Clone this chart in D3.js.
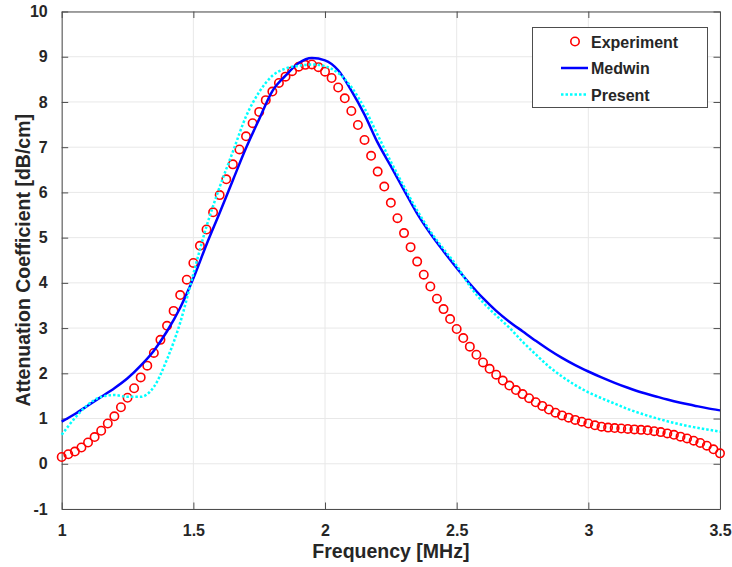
<!DOCTYPE html>
<html>
<head>
<meta charset="utf-8">
<script src="https://cdn.jsdelivr.net/npm/d3@7"></script>
<style>
  body { margin: 0; background: #fff; }
  #chart { width: 732px; height: 567px; }
  text { font-family: "Liberation Sans", Arial, Helvetica, sans-serif; font-weight: bold; fill: #262626; }
</style>
</head>
<body>
<div id="chart"></div>
<script>
// frequency grid of the measured points (MHz): start and step
const expStart = 1.0;
const expStep = 0.025;
// measured attenuation [dB/cm], one per grid point
const experiment = [
  0.15, 0.21, 0.27, 0.36, 0.47, 0.59, 0.73, 0.89, 1.05, 1.25,
  1.46, 1.67, 1.91, 2.17, 2.45, 2.74, 3.05, 3.38, 3.73, 4.07,
  4.44, 4.82, 5.18, 5.56, 5.94, 6.29, 6.62, 6.95, 7.24, 7.53,
  7.78, 8.04, 8.23, 8.42, 8.56, 8.68, 8.78, 8.82, 8.83, 8.77,
  8.67, 8.53, 8.32, 8.08, 7.80, 7.49, 7.16, 6.81, 6.46, 6.13,
  5.77, 5.43, 5.10, 4.79, 4.47, 4.18, 3.92, 3.65, 3.42, 3.20,
  2.98, 2.78, 2.59, 2.41, 2.24, 2.10, 1.97, 1.84, 1.73, 1.63,
  1.54, 1.45, 1.36, 1.28, 1.20, 1.13, 1.07, 1.02, 0.97, 0.93,
  0.89, 0.85, 0.82, 0.80, 0.79, 0.78, 0.77, 0.76, 0.75, 0.74,
  0.72, 0.70, 0.67, 0.64, 0.60, 0.56, 0.51, 0.46, 0.40, 0.32,
  0.23
];

// model curves sampled every 0.05 MHz
const curveStart = 1.0;
const curveStep = 0.05;
const medwin = [
  0.93, 1.10, 1.29, 1.48, 1.67, 1.89, 2.17, 2.50, 2.93, 3.45,
  4.10, 4.85, 5.55, 6.27, 6.98, 7.62, 8.24, 8.58, 8.86, 8.97,
  8.92, 8.70, 8.25, 7.72, 7.10, 6.58, 6.05, 5.53, 5.09, 4.70,
  4.33, 3.98, 3.66, 3.38, 3.14, 2.93, 2.72, 2.52, 2.34, 2.18,
  2.04, 1.91, 1.79, 1.68, 1.58, 1.50, 1.42, 1.35, 1.29, 1.23,
  1.18
];
const present = [
  0.64, 1.01, 1.31, 1.48, 1.52, 1.48, 1.48, 1.70, 2.31, 3.12,
  4.20, 5.25, 6.12, 6.90, 7.68, 8.22, 8.58, 8.74, 8.80, 8.83,
  8.79, 8.64, 8.33, 7.86, 7.27, 6.68, 6.13, 5.60, 5.14, 4.75,
  4.38, 3.93, 3.57, 3.28, 3.01, 2.70, 2.42, 2.15, 1.93, 1.74,
  1.58, 1.45, 1.33, 1.21, 1.11, 1.02, 0.94, 0.87, 0.81, 0.76,
  0.71
];

const xTicks = [1, 1.5, 2, 2.5, 3, 3.5];
const yTicks = [-1, 0, 1, 2, 3, 4, 5, 6, 7, 8, 9, 10];
const legendNames = ["Experiment", "Medwin", "Present"];

const width = 732, height = 567;
const margin = {top: 11.5, right: 12, bottom: 58, left: 61.7};

const svg = d3.select("#chart").append("svg")
    .attr("width", width)
    .attr("height", height);

const x = d3.scaleLinear().domain([1, 3.5]).range([margin.left, width - margin.right]);
const y = d3.scaleLinear().domain([-1, 10]).range([height - margin.bottom, margin.top]);

// grid
const grid = svg.append("g").attr("stroke", "#e8e8e8").attr("stroke-width", 1);
grid.selectAll(".gx").data(xTicks).enter().append("line")
    .attr("x1", d => x(d)).attr("x2", d => x(d))
    .attr("y1", y(-1)).attr("y2", y(10));
grid.selectAll(".gy").data(yTicks).enter().append("line")
    .attr("x1", x(1)).attr("x2", x(3.5))
    .attr("y1", d => y(d)).attr("y2", d => y(d));

// axes (box with inward ticks)
const tickLen = 6.5;
const fmt = d => String(d);
svg.append("g").attr("class", "xAxis")
    .attr("transform", "translate(0," + y(-1) + ")")
    .call(d3.axisBottom(x).tickValues(xTicks).tickSizeInner(-tickLen).tickSizeOuter(0).tickPadding(16).tickFormat(fmt));
svg.append("g").attr("class", "xAxisTop")
    .attr("transform", "translate(0," + y(10) + ")")
    .call(d3.axisTop(x).tickValues(xTicks).tickSizeInner(-tickLen).tickSizeOuter(0).tickFormat(""));
svg.append("g").attr("class", "yAxis")
    .attr("transform", "translate(" + x(1) + ",0)")
    .call(d3.axisLeft(y).tickValues(yTicks).tickSizeInner(-tickLen).tickSizeOuter(0).tickPadding(14).tickFormat(fmt));
svg.append("g").attr("class", "yAxisRight")
    .attr("transform", "translate(" + x(3.5) + ",0)")
    .call(d3.axisRight(y).tickValues(yTicks).tickSizeInner(-tickLen).tickSizeOuter(0).tickFormat(""));

svg.selectAll(".xAxis, .xAxisTop, .yAxis, .yAxisRight").each(function() {
    const g = d3.select(this);
    g.select(".domain").attr("stroke", "#4d4d4d");
    g.selectAll(".tick line").attr("stroke", "#4d4d4d");
    g.selectAll(".tick text").attr("font-size", 16).attr("fill", "#262626")
        .style("font-family", "'Liberation Sans', Arial, sans-serif").style("font-weight", "bold");
});

// axis labels
svg.append("text")
    .attr("x", (x(1) + x(3.5)) / 2)
    .attr("y", 558)
    .attr("text-anchor", "middle")
    .attr("font-size", 19.5)
    .text("Frequency [MHz]");
svg.append("text")
    .attr("transform", "translate(30," + ((y(-1) + y(10)) / 2) + ") rotate(-90)")
    .attr("text-anchor", "middle")
    .attr("font-size", 19.5)
    .text("Attenuation Coefficient [dB/cm]");

// plot
const plot = svg.append("g").attr("id", "plot");

const line = d3.line()
    .x((d, i) => x(curveStart + i * curveStep))
    .y(d => y(d))
    .curve(d3.curveMonotoneX);

plot.selectAll(".exp").data(experiment).enter().append("circle")
    .attr("cx", (d, i) => x(expStart + i * expStep))
    .attr("cy", d => y(d))
    .attr("r", 4.2)
    .attr("fill", "none")
    .attr("stroke", "#ff0000")
    .attr("stroke-width", 1.6);

plot.append("path").datum(medwin)
    .attr("d", line)
    .attr("fill", "none")
    .attr("stroke", "#0000ff")
    .attr("stroke-width", 2.5);

plot.append("path").datum(present)
    .attr("d", line)
    .attr("fill", "none")
    .attr("stroke", "#00ffff")
    .attr("stroke-width", 2.5)
    .attr("stroke-dasharray", "2.5,2");

// legend
const legend = svg.append("g").attr("class", "legend");
legend.append("rect")
    .attr("x", 532.5).attr("y", 27.5)
    .attr("width", 175).attr("height", 80)
    .attr("fill", "#fff")
    .attr("stroke", "#4d4d4d")
    .attr("stroke-width", 1);

const rows = legend.selectAll(".row").data(legendNames).enter().append("g")
    .attr("transform", (d, i) => "translate(0," + (41.5 + i * 26.5) + ")");
rows.append("text")
    .attr("x", 591)
    .attr("y", 6)
    .attr("font-size", 16)
    .text(d => d);
rows.filter((d, i) => i === 0).append("circle")
    .attr("cx", 575).attr("cy", 0).attr("r", 4.2)
    .attr("fill", "none").attr("stroke", "#ff0000").attr("stroke-width", 1.6);
rows.filter((d, i) => i === 1).append("line")
    .attr("x1", 561).attr("x2", 588).attr("y1", 0).attr("y2", 0)
    .attr("stroke", "#0000ff").attr("stroke-width", 2.5);
rows.filter((d, i) => i === 2).append("line")
    .attr("x1", 561).attr("x2", 588).attr("y1", 0).attr("y2", 0)
    .attr("stroke", "#00ffff").attr("stroke-width", 2.5).attr("stroke-dasharray", "2.5,2");
</script>
</body>
</html>
